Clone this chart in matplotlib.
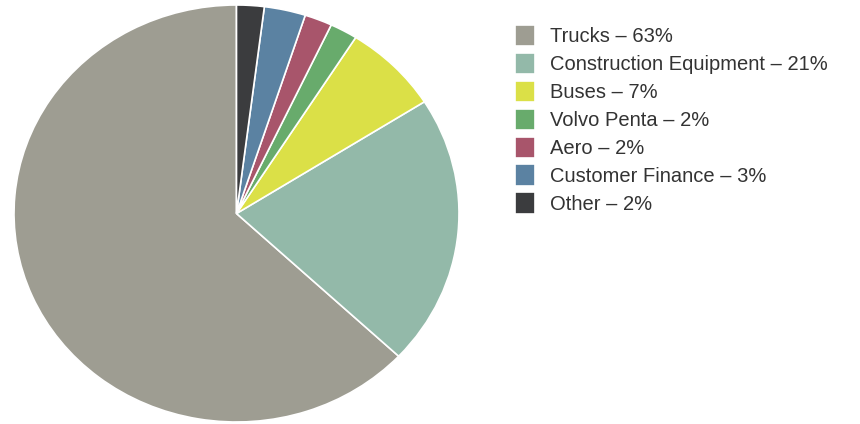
import matplotlib.pyplot as plt

segments = ["Trucks", "Construction Equipment", "Buses", "Volvo Penta",
            "Aero", "Customer Finance", "Other"]
shares = [63, 21, 7, 2, 2, 3, 2]
colors = ["#9e9d92", "#93b9a9", "#dbe047", "#68ab6c",
          "#a8556b", "#5b82a2", "#3b3c3e"]

labels = [f"{s} \u2013 {v}%" for s, v in zip(segments, shares)]

plt.rcParams['font.family'] = ['Liberation Sans', 'DejaVu Sans']

fig = plt.figure(figsize=(8.6, 4.24), dpi=100)
ax = fig.add_axes([14/860, 2/424, 445/860, 417/424])

wedges, _ = ax.pie(shares, colors=colors, startangle=90, counterclock=True,
                   wedgeprops=dict(edgecolor="white", linewidth=1.2))
ax.set_aspect('auto')
ax.set_xlim(-1, 1)
ax.set_ylim(-1, 1)

leg = fig.legend(wedges, labels, loc="upper left",
                 bbox_to_anchor=(507/860, 1 - 17/424),
                 frameon=False, fontsize=14.5, handlelength=1.0,
                 handleheight=1.25, handletextpad=0.75, labelspacing=0.32,
                 borderaxespad=0)
for t in leg.get_texts():
    t.set_color("#333333")

plt.savefig("out.png", dpi=100)
